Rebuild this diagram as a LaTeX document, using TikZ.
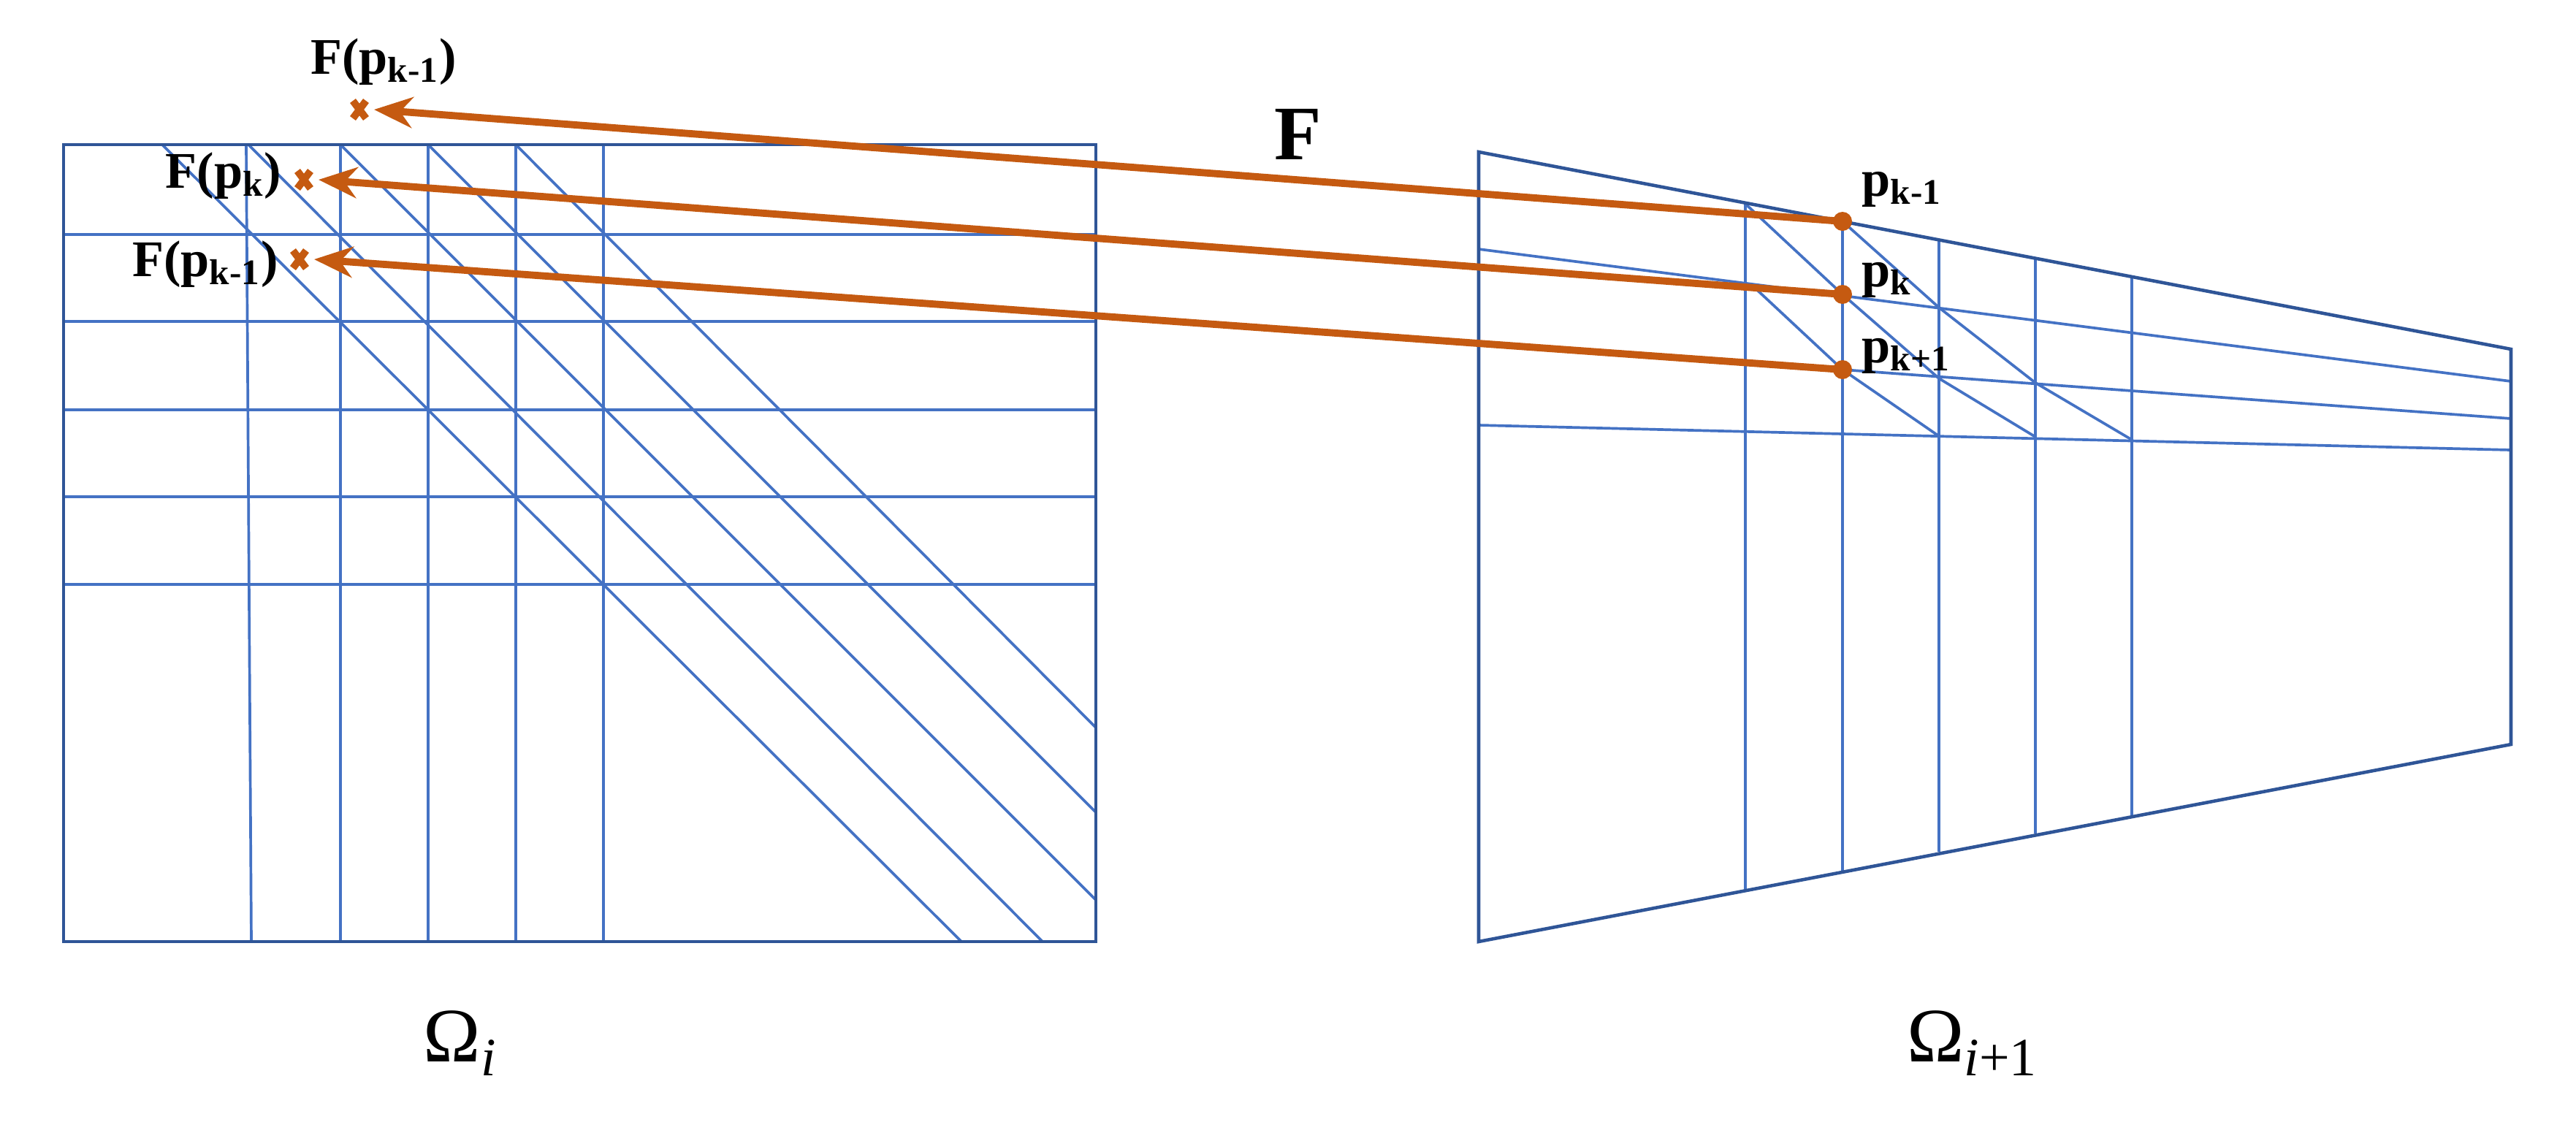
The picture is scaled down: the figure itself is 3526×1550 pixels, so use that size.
\documentclass[tikz,border=0pt]{standalone}
\usepackage{fontspec}
\setmainfont{Liberation Serif}
\usetikzlibrary{arrows.meta,calc}
\definecolor{gridb}{HTML}{4472C4}
\definecolor{edgeb}{HTML}{2F5597}
\definecolor{orng}{HTML}{C55A11}
\begin{document}
\begin{tikzpicture}[x=0.01cm,y=-0.01cm,
  gl/.style={gridb,line width=1.05pt},
  el/.style={edgeb,line width=1.3pt},
  arr/.style={orng,line width=2.8pt,-{Stealth[length=15pt,width=12pt]}},
  lab/.style={font=\bfseries\fontsize{20}{20}\selectfont,inner sep=0pt},
  xm/.style={orng,line width=2.8pt}]
\useasboundingbox (0,0) rectangle (3526,1550);
% left grid
\foreach \y in {321,440,561,680,800} \draw[gl] (87,\y) -- (1500,\y);
\draw[gl] (337,198) -- (344,1289);
\foreach \x in {466,586,706,826} \draw[gl] (\x,198) -- (\x,1289);
\draw[gl] (222,198) -- (1316,1289);
\draw[gl] (340,198) -- (1427,1289);
\draw[gl] (466,198) -- (1500,1232);
\draw[gl] (586,198) -- (1500,1112);
\draw[gl] (706,198) -- (1500,996);
\draw[el] (87,198) rectangle (1500,1289);
% right quad
\draw[gl] (2024,341) -- (3437,522);
\draw[gl] (2522,506) -- (3437,573);
\draw[gl] (2024,582) -- (3437,616);
\draw[gl] (2389,279) -- (2389,1217);
\draw[gl] (2522,303) -- (2522,1194);
\draw[gl] (2654,330) -- (2654,1166);
\draw[gl] (2786,355) -- (2786,1141);
\draw[gl] (2918,380) -- (2918,1118);
\draw[gl] (2389,279) -- (2522,403) -- (2654,518) -- (2786,598);
\draw[gl] (2522,303) -- (2654,421) -- (2786,524) -- (2918,602);
\draw[gl] (2403,395) -- (2522,506) -- (2654,597);
\draw[el] (2024,208) -- (3437,478) -- (3437,1019) -- (2024,1289) -- cycle;
% points
\coordinate (q1) at (2522,303);
\coordinate (q2) at (2522,403);
\coordinate (q3) at (2522,506);
\coordinate (f1) at (492,150);
\coordinate (f2) at (416,246);
\coordinate (f3) at (410,355);
\foreach \c in {f1,f2,f3}
  \draw[xm] ($(\c)+(-9,-12)$) -- ($(\c)+(9,12)$) ($(\c)+(9,-12)$) -- ($(\c)+(-9,12)$);
\draw[arr] (q1) -- ($(f1)+(20,0)$);
\draw[arr] (q2) -- ($(f2)+(20,0)$);
\draw[arr] (q3) -- ($(f3)+(20,0)$);
\foreach \c in {q1,q2,q3} \fill[orng] (\c) circle (13);
% labels
\node[lab] (lf1) at (525,85) {F(p\textsubscript{k-1})};
\node[lab] (lf2) at (306,241) {F(p\textsubscript{k})};
\node[lab] (lf3) at (281,362) {F(p\textsubscript{k-1})};
\node[lab,anchor=west] (lq1) at (2548,259) {p\textsubscript{k-1}};
\node[lab,anchor=west] (lq2) at (2548,383) {p\textsubscript{k}};
\node[lab,anchor=west] (lq3) at (2548,487) {p\textsubscript{k+1}};
\node[font=\bfseries\fontsize{30}{30}\selectfont,inner sep=0pt] (lF) at (1777,184) {F};
\node[font=\fontsize{30}{30}\selectfont,inner sep=0pt] (o1) at (630,1428) {Ω\textsubscript{\textit{i}}};
\node[font=\fontsize{30}{30}\selectfont,inner sep=0pt] (o2) at (2700,1428) {Ω\textsubscript{\textit{i}+1}};
\end{tikzpicture}
\end{document}
